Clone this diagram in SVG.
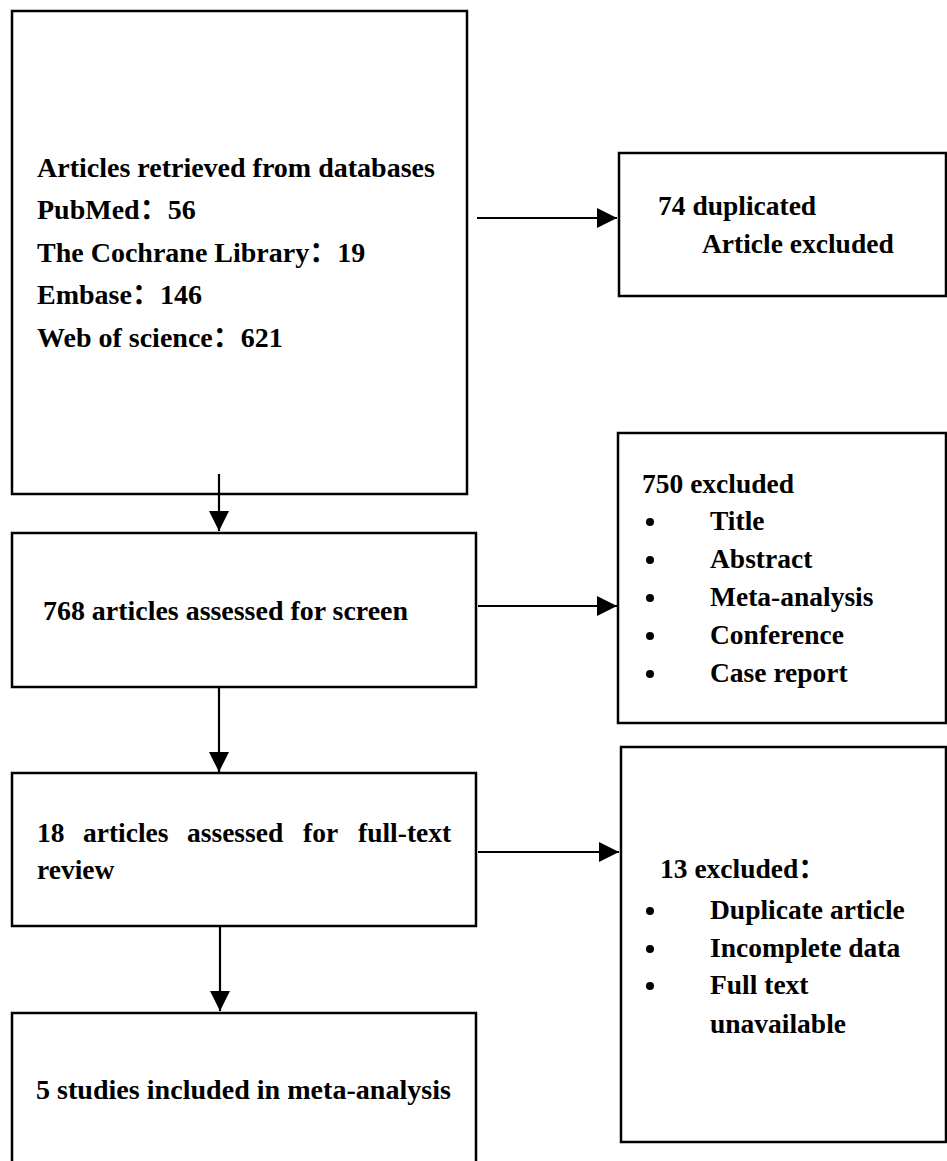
<svg xmlns="http://www.w3.org/2000/svg" width="947" height="1161" viewBox="0 0 947 1161">
<defs>
<style>
.box{fill:#fff;stroke:#000;stroke-width:2.5}
.t{font-family:"Liberation Serif","Times New Roman","Noto Sans CJK SC",serif;font-weight:bold;font-size:27.5px;fill:#000}
.big{font-size:28px}
.c{stroke:#000;stroke-width:2.2;fill:none}
.dot{fill:#000}
</style>
<marker id="ah" viewBox="0 0 20 20" refX="20" refY="10" markerWidth="20" markerHeight="20" markerUnits="userSpaceOnUse" orient="auto">
<path d="M0,0 L20,10 L0,20 z" fill="#000"/>
</marker>
</defs>
<rect width="947" height="1161" fill="#fff"/>

<g id="node-retrieved">
<rect class="box" x="12" y="11" width="455" height="483"/>
<text class="t big" x="37" y="177">Articles retrieved from databases</text>
<text class="t big" x="37" y="219">PubMed：56</text>
<text class="t big" x="37" y="262">The Cochrane Library：19</text>
<text class="t big" x="37" y="304">Embase：146</text>
<text class="t big" x="37" y="347">Web of science：621</text>
</g>

<g id="node-duplicated">
<rect class="box" x="619" y="153" width="327" height="143"/>
<text class="t" x="658" y="215">74 duplicated</text>
<text class="t" x="702" y="253">Article excluded</text>
</g>

<g id="node-screen">
<rect class="box" x="12" y="533" width="464" height="154"/>
<text class="t" x="43" y="620" textLength="365" lengthAdjust="spacingAndGlyphs">768 articles assessed for screen</text>
</g>

<g id="node-excluded750">
<rect class="box" x="618" y="433" width="328" height="290"/>
<text class="t" x="642" y="493">750 excluded</text>
<circle class="dot" cx="650" cy="522" r="4"/>
<text class="t" x="710" y="530">Title</text>
<circle class="dot" cx="650" cy="560" r="4"/>
<text class="t" x="710" y="568">Abstract</text>
<circle class="dot" cx="650" cy="598" r="4"/>
<text class="t" x="710" y="606">Meta-analysis</text>
<circle class="dot" cx="650" cy="636" r="4"/>
<text class="t" x="710" y="644">Conference</text>
<circle class="dot" cx="650" cy="674" r="4"/>
<text class="t" x="710" y="682">Case report</text>
</g>

<g id="node-fulltext">
<rect class="box" x="12" y="773" width="464" height="153"/>
<text class="t" y="842"><tspan x="37">18</tspan><tspan x="83">articles</tspan><tspan x="187">assessed</tspan><tspan x="303">for</tspan><tspan x="358">full-text</tspan></text>
<text class="t" x="37" y="879">review</text>
</g>

<g id="node-excluded13">
<rect class="box" x="621" y="747" width="325" height="395"/>
<text class="t" x="660" y="878">13 excluded：</text>
<circle class="dot" cx="650" cy="911" r="4"/>
<text class="t" x="710" y="919">Duplicate article</text>
<circle class="dot" cx="650" cy="949" r="4"/>
<text class="t" x="710" y="957">Incomplete data</text>
<circle class="dot" cx="650" cy="986" r="4"/>
<text class="t" x="710" y="994">Full text</text>
<text class="t" x="710" y="1033">unavailable</text>
</g>

<g id="node-included">
<rect class="box" x="12" y="1013" width="464" height="160"/>
<text class="t" x="36" y="1099" textLength="415" lengthAdjust="spacingAndGlyphs">5 studies included in meta-analysis</text>
</g>

<g id="connectors">
<line class="c" x1="477" y1="218" x2="617" y2="218" marker-end="url(#ah)"/>
<line class="c" x1="219" y1="474" x2="219" y2="531" marker-end="url(#ah)"/>
<line class="c" x1="478" y1="606" x2="617" y2="606" marker-end="url(#ah)"/>
<line class="c" x1="219" y1="687" x2="219" y2="772" marker-end="url(#ah)"/>
<line class="c" x1="478" y1="852" x2="619" y2="852" marker-end="url(#ah)"/>
<line class="c" x1="220" y1="926" x2="220" y2="1011" marker-end="url(#ah)"/>
</g>
</svg>
